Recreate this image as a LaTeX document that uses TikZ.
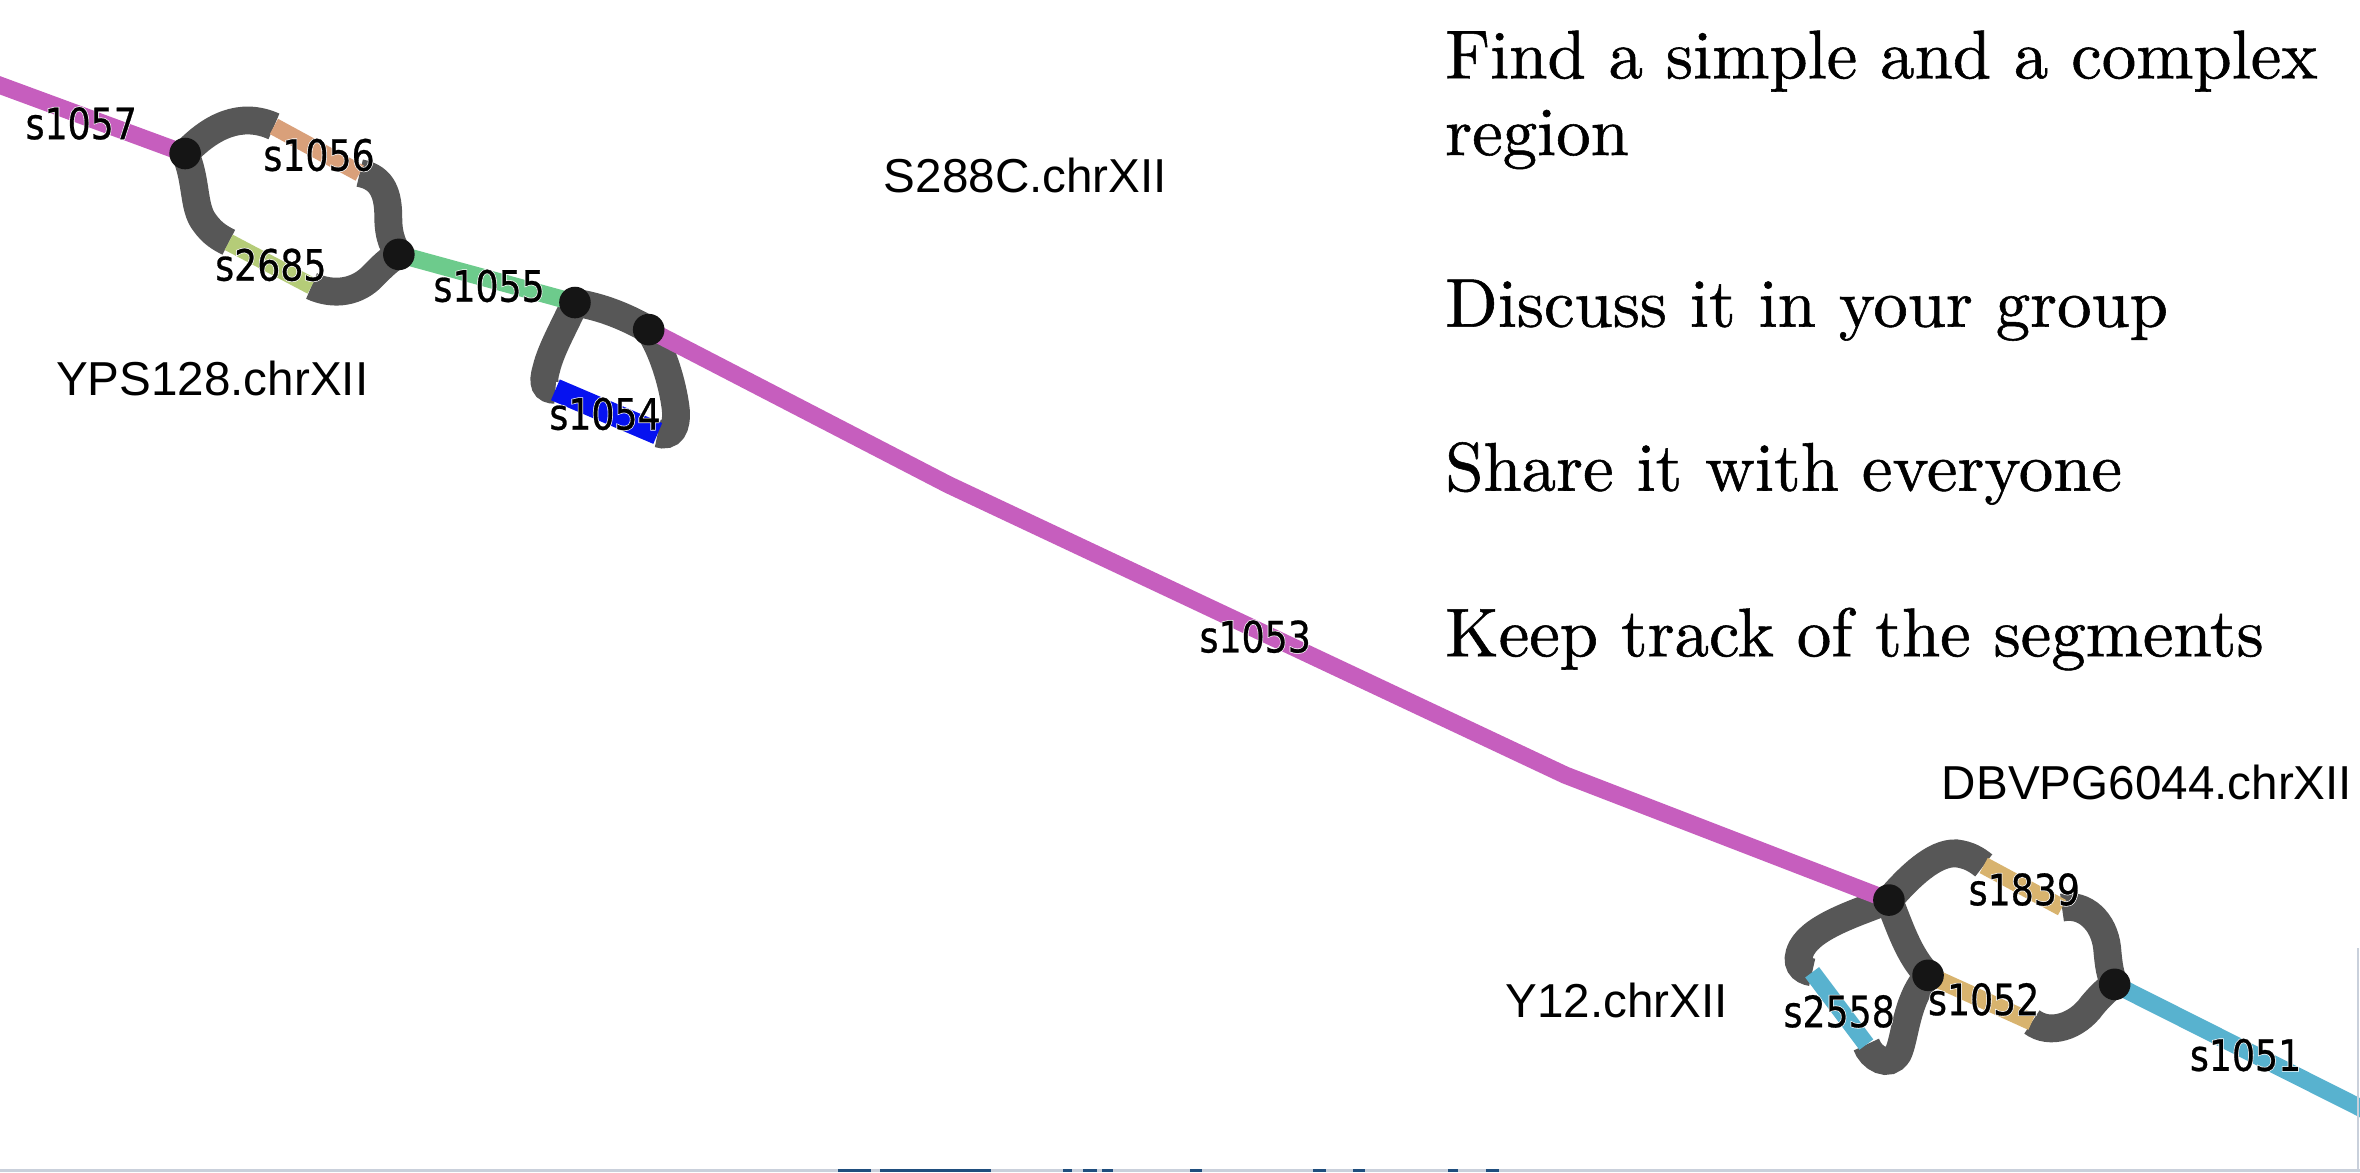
\documentclass[tikz,border=0pt]{standalone}
\usepackage{fontspec}
\newfontfamily\chrfont{Liberation Sans}
\newfontfamily\taskfont{lmroman10-regular.otf}[FakeBold=0.8]
\newfontfamily\segfont{DejaVu Sans}[FakeStretch=0.84,FakeBold=0.6]
\newfontfamily\halofont{DejaVu Sans}[FakeStretch=0.84,FakeBold=4,Color=FFFFFF]
\newcommand\seglab[1]{\rlap{\halofont #1}{\segfont #1}}
\definecolor{linkgray}{HTML}{575757}
\definecolor{juncblack}{HTML}{151515}
\definecolor{magentaseg}{HTML}{C65EBE}
\definecolor{greenseg}{HTML}{6DCB8C}
\definecolor{blueseg}{HTML}{0612F0}
\definecolor{orangeseg}{HTML}{D9A07A}
\definecolor{ygreenseg}{HTML}{B5CC78}
\definecolor{goldseg}{HTML}{D8B36E}
\definecolor{cyanseg}{HTML}{58B2CF}
\definecolor{stripgray}{HTML}{C9D0DB}
\definecolor{stripblue}{HTML}{1F4E7E}
\tikzset{
  link/.style={draw=linkgray, line width=18.5*0.03cm, line cap=butt},
  segm/.style={line width=11.5*0.03cm, line cap=butt, line join=round},
  junc/.style={fill=juncblack, draw=none},
  seglabel/.style={inner sep=0pt, anchor=center, font=\fontsize{24.5}{28}\selectfont},
  chrlabel/.style={inner sep=0pt, anchor=base west, font=\chrfont\fontsize{27}{32}\selectfont},
  task/.style={inner sep=0pt, anchor=base west, font=\taskfont\fontsize{39}{47}\selectfont},
}
\begin{document}
\begin{tikzpicture}[x=0.03cm,y=-0.03cm]
\useasboundingbox (0,0) rectangle (1568,779);
\clip (0,0) rectangle (1568,779);
\fill[white] (0,0) rectangle (1568,779);
% junction coordinates
\coordinate (J1) at (123,102);
\coordinate (J2) at (265,169);
\coordinate (J3) at (382,201);
\coordinate (J4) at (431,219);
\coordinate (J5) at (1255,598);
\coordinate (J6) at (1281,648);
\coordinate (J7) at (1405,654);
% segment ends
\coordinate (a1057) at (-10,53);
\coordinate (a1056) at (182,84);
\coordinate (b1056) at (239,115);
\coordinate (a2685) at (152,161);
\coordinate (b2685) at (207,190);
\coordinate (a1054) at (369,259);
\coordinate (b1054) at (437,288);
\coordinate (k1) at (630,322);
\coordinate (k2) at (1040,515);
\coordinate (a1839) at (1318,575);
\coordinate (b1839) at (1370,603);
\coordinate (a1052) at (1286,650);
\coordinate (b1052) at (1350,679);
\coordinate (a2558) at (1204,646);
\coordinate (b2558) at (1240,694);
\coordinate (b1051) at (1580,742);
% gray links
\draw[link] (J1) .. controls (140,84) and (160,74) .. (a1056);
\draw[link] (b1056) .. controls (255,118) and (258,130) .. (258,145) .. controls (258,158) and (262,165) .. (J2);
\draw[link] (J1) .. controls (131,120) and (128,138) .. (136,148) .. controls (141,155) and (146,158) .. (a2685);
\draw[link] (b2685) .. controls (222,197) and (238,194) .. (248,183) .. controls (255,176) and (259,172) .. (J2);
\draw[link] (J3) .. controls (400,204) and (415,210) .. (J4);
\draw[link] (J3) .. controls (376,215) and (366,232) .. (363,245) .. controls (360,255) and (362,259) .. (a1054);
\draw[link] (b1054) .. controls (446,291) and (450,284) .. (449,272) .. controls (447,255) and (440,232) .. (J4);
\draw[link] (J5) .. controls (1268,583) and (1285,566) .. (1300,567) .. controls (1308,568) and (1313,571) .. (a1839);
\draw[link] (b1839) .. controls (1385,600) and (1398,612) .. (1400,630) .. controls (1401,642) and (1402,648) .. (J7);
\draw[link] (J5) .. controls (1262,615) and (1268,635) .. (J6);
\draw[link] (b1052) .. controls (1362,688) and (1380,682) .. (1390,668) .. controls (1395,662) and (1400,657) .. (J7);
\draw[link] (J5) .. controls (1235,606) and (1205,615) .. (1197,630) .. controls (1192,640) and (1197,645) .. (a2558);
\draw[link] (b2558) .. controls (1243,703) and (1255,710) .. (1261,700) .. controls (1266,690) and (1266,665) .. (J6);
% coloured segments
\draw[segm, magentaseg] (a1057) -- (J1);
\draw[segm, orangeseg] (a1056) -- (b1056);
\draw[segm, ygreenseg] (a2685) -- (b2685);
\draw[segm, greenseg] (J2) -- (J3);
\draw[segm, blueseg, line width=15*0.03cm] (a1054) -- (b1054);
\draw[segm, magentaseg] (J4) -- (k1) -- (k2) -- (J5);
\draw[segm, goldseg] (a1839) -- (b1839);
\draw[segm, goldseg] (a1052) -- (b1052);
\draw[segm, cyanseg] (a2558) -- (b2558);
\draw[segm, cyanseg] (J7) -- (b1051);
% junctions
\foreach \j in {J1,J2,J3,J4,J5,J6,J7} \fill[junc] (\j) circle (10.5);
% segment labels
\node[seglabel] (l1057) at (54,82) {\seglab{s1057}};
\node[seglabel] (l1056) at (212,103) {\seglab{s1056}};
\node[seglabel] (l2685) at (180,176) {\seglab{s2685}};
\node[seglabel] (l1055) at (325,190) {\seglab{s1055}};
\node[seglabel] (l1054) at (402,275) {\seglab{s1054}};
\node[seglabel] (l1053) at (834,423) {\seglab{s1053}};
\node[seglabel] (l1839) at (1345,591) {\seglab{s1839}};
\node[seglabel] (l2558) at (1222,672) {\seglab{s2558}};
\node[seglabel] (l1052) at (1318,664) {\seglab{s1052}};
\node[seglabel] (l1051) at (1492,701) {\seglab{s1051}};
% chromosome labels
\node[chrlabel] (cS288C) at (587,128) {S288C.chrXII};
\node[chrlabel] (cYPS) at (37,263) {YPS128.chrXII};
\node[chrlabel] (cDBV) at (1290,531) {DBVPG6044.chrXII};
\node[chrlabel] (cY12) at (1000,676) {Y12.chrXII};
% task text
\node[task] (t1) at (960,52) {Find a simple and a complex};
\node[task] (t1b) at (960,103) {region};
\node[task] (t2) at (960,217) {Discuss it in your group};
\node[task] (t3) at (960,326) {Share it with everyone};
\node[task] (t4) at (960,436) {Keep track of the segments};
% screen edge strip
\fill[stripgray] (0,776.8) rectangle (1568,779);
\draw[stripgray, line width=1.3*0.03cm] (1566.5,630) -- (1566.5,779);
\foreach \a/\b in {556.8/578.7,584.7/658.5,706.3/712.3,719.6/728.9,732.2/739.5,790.7/798.7,872.4/881.1,899/907,962/968.8,987.4/996}
  \fill[stripblue] (\a,776.5) rectangle (\b,779);
\end{tikzpicture}
\end{document}
